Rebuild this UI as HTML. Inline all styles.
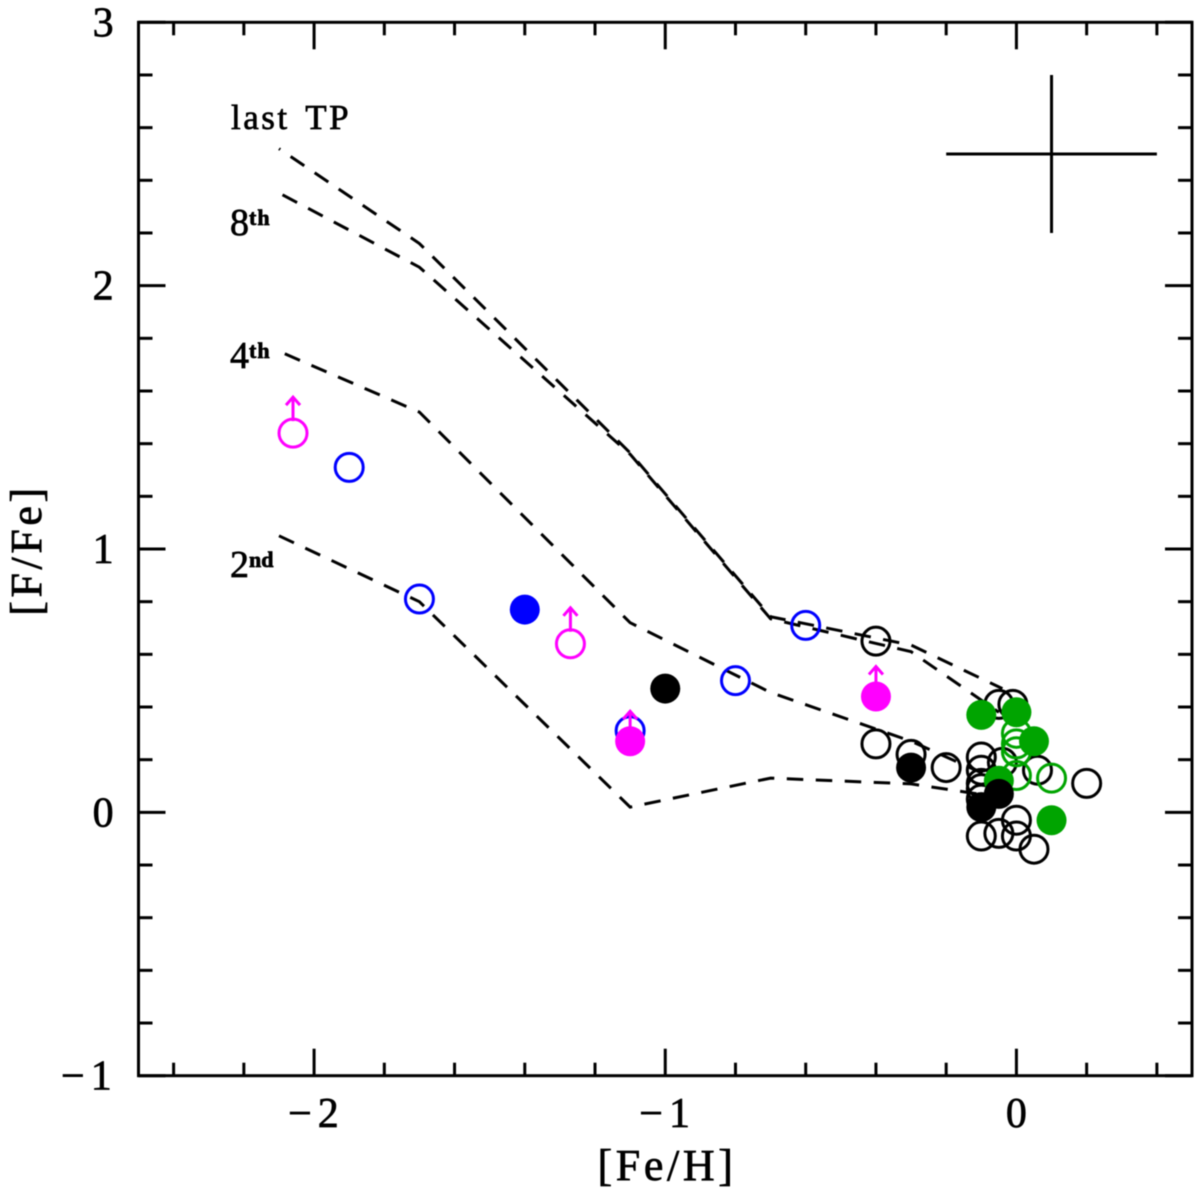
<!DOCTYPE html>
<html lang="en">
<head>
<meta charset="utf-8">
<title>[F/Fe] vs [Fe/H]</title>
<style>
html,body{margin:0;padding:0;background:#fff;}
svg{display:block;filter:blur(.4px);}
text{font-family:"Liberation Serif",serif;fill:#000;stroke:#000;stroke-width:.7px;}
</style>
</head>
<body>
<svg id="chart" xmlns="http://www.w3.org/2000/svg" width="1200" height="1196" viewBox="0 0 1200 1196">
<rect x="0" y="0" width="1200" height="1196" fill="#fff"/>
<g id="curves"></g>
<g id="errorbar"></g>
<g id="points"></g>
<g id="axes"></g>
<text x="667" y="1180" font-size="44" text-anchor="middle" letter-spacing="3.6">[Fe/H]</text>
<text transform="translate(41,550) rotate(-90)" font-size="44" text-anchor="middle" letter-spacing="3.6">[F/Fe]</text>
<text x="231" y="129" font-size="35" letter-spacing="2.5" word-spacing="5">last TP</text>
<text x="230" y="235" font-size="38">8<tspan dy="-10" font-size="22" font-weight="bold" letter-spacing="1">th</tspan></text>
<text x="230" y="368" font-size="38">4<tspan dy="-10" font-size="22" font-weight="bold" letter-spacing="1">th</tspan></text>
<text x="230" y="577" font-size="38">2<tspan dy="-10" font-size="22" font-weight="bold">nd</tspan></text>
</svg>
<script>
// Axis ticks
const xMajorTicks = [-2, -1, 0];
const xMinorTicks = [-2.4, -2.2, -1.8, -1.6, -1.4, -1.2, -0.8, -0.6, -0.4, -0.2, 0.2, 0.4];
const yMajorTicks = [-1, 0, 1, 2, 3];
const yMinorTicks = [-0.8, -0.6, -0.4, -0.2, 0.2, 0.4, 0.6, 0.8, 1.2, 1.4, 1.6, 1.8, 2.2, 2.4, 2.6, 2.8];

// Model curves: [Fe/H], [F/Fe]
const curveLastTpFeH = [-2.1, -1.7, -1.1, -0.7, -0.3, -0.04];
const curveLastTpFFe = [2.52, 2.16, 1.365, 0.743, 0.635, 0.47];
const curve8thFeH = [-2.09, -1.7, -1.1, -0.7, -0.3, -0.05];
const curve8thFFe = [2.345, 2.07, 1.36, 0.735, 0.61, 0.38];
const curve4thFeH = [-2.09, -1.7, -1.1, -0.7, -0.3, -0.05];
const curve4thFFe = [1.745, 1.52, 0.72, 0.455, 0.27, 0.12];
const curve2ndFeH = [-2.1, -1.7, -1.1, -0.7, -0.3, -0.05];
const curve2ndFFe = [1.05, 0.80, 0.02, 0.13, 0.108, 0.058];

// Stars: [Fe/H], [F/Fe]
const blackOpenFeH = [-0.4, -0.05, -0.01, -0.4, -0.3, -0.2, -0.1, -0.1, -0.1, -0.1, -0.1, -0.04, 0.06, 0.2, 0, -0.1, -0.05, 0, 0.05];
const blackOpenFFe = [0.65, 0.41, 0.41, 0.26, 0.22, 0.17, 0.21, 0.16, 0.11, 0.09, 0.05, 0.19, 0.16, 0.11, -0.03, -0.09, -0.08, -0.09, -0.14];
const blueOpenFeH = [-1.9, -1.7, -1.1, -0.8, -0.6];
const blueOpenFFe = [1.31, 0.81, 0.31, 0.5, 0.71];
const blueFilledFeH = [-1.4];
const blueFilledFFe = [0.77];
const magentaOpenFeH = [-2.06, -1.27];
const magentaOpenFFe = [1.44, 0.64];
const magentaFilledFeH = [-1.1, -0.4];
const magentaFilledFFe = [0.27, 0.44];
const greenOpenFeH = [0, 0, 0, 0, 0.1];
const greenOpenFFe = [0.3, 0.26, 0.23, 0.14, 0.13];
const greenFilledFeH = [-0.1, 0, 0.05, -0.05, 0.1];
const greenFilledFFe = [0.37, 0.38, 0.27, 0.12, -0.03];
const blackFilledFeH = [-1, -0.3, -0.05, -0.1];
const blackFilledFFe = [0.47, 0.17, 0.07, 0.02];

// Typical error bar: centre and half-width
const errCentre = [0.1, 2.5];
const errHalf = [0.3, 0.3];

const NS = 'http://www.w3.org/2000/svg';
const left = 138.5, right = 1192, top_ = 22.3, bottom = 1075.7;
const xMin = -2.5, xMax = 0.5, yMin = -1, yMax = 3;
function sx(v) { return left + (v - xMin) / (xMax - xMin) * (right - left); }
function sy(v) { return bottom - (v - yMin) / (yMax - yMin) * (bottom - top_); }
function mk(tag, attrs, parent) {
  const e = document.createElementNS(NS, tag);
  for (const k in attrs) e.setAttribute(k, attrs[k]);
  parent.appendChild(e);
  return e;
}
const axesG = document.getElementById('axes');
const curvesG = document.getElementById('curves');
const pointsG = document.getElementById('points');
const errG = document.getElementById('errorbar');

// Frame
const frame = mk('rect', {x: left, y: top_, width: right - left, height: bottom - top_, fill: 'none', stroke: '#000', 'stroke-width': 3}, axesG);



function tick(x1, y1, x2, y2, name) {
  const t = mk('line', {x1: x1, y1: y1, x2: x2, y2: y2, stroke: '#000', 'stroke-width': 3}, axesG);
  
  
}
function xTicks(list, len, name) {
  list.forEach(function (v) {
    tick(sx(v), bottom, sx(v), bottom - len, name);
    tick(sx(v), top_, sx(v), top_ + len, name);
  });
}
function yTicks(list, len, name) {
  list.forEach(function (v) {
    tick(left, sy(v), left + len, sy(v), name);
    tick(right, sy(v), right - len, sy(v), name);
  });
}
xTicks(xMinorTicks, 13, 'x-minor-tick');
xTicks(xMajorTicks, 27, 'x-major-tick');
yTicks(yMinorTicks, 14, 'y-minor-tick');
yTicks(yMajorTicks, 27, 'y-major-tick');

// Tick labels: negative labels get a wide gap after the minus sign
function label(group, v, x, y, name) {
  const t = mk('text', {x: x, y: y, 'font-size': 42}, group);
  
  
  if (v < 0) {
    t.textContent = '\u2212';
    const d = mk('tspan', {dx: 6}, t);
    
    
    d.textContent = String(Math.abs(v));
  } else {
    t.textContent = String(v);
  }
}
xMajorTicks.forEach(function (v) {
  label(axesG, v, v < 0 ? sx(v) - 26 : sx(v) - 10.5, 1127, 'x-tick-label');
});
yMajorTicks.forEach(function (v) {
  label(axesG, v, v < 0 ? 61 : 92.6, sy(v) + 14, 'y-tick-label');
});

// Dashed model curves
function curve(xs, ys, offset, name) {
  const pts = xs.map(function (v, i) { return sx(v).toFixed(1) + ',' + sy(ys[i]).toFixed(1); }).join(' ');
  const p = mk('polyline', {points: pts, fill: 'none', stroke: '#000', 'stroke-width': 3, 'stroke-dasharray': '16.5 12.5', 'stroke-dashoffset': offset}, curvesG);
  
  
}
curve(curveLastTpFeH, curveLastTpFFe, 15, 'curve-last-tp');
curve(curve8thFeH, curve8thFFe, 0, 'curve-8th-pulse');
curve(curve4thFeH, curve4thFFe, -2.5, 'curve-4th-pulse');
curve(curve2ndFeH, curve2ndFFe, 0, 'curve-2nd-pulse');

// Error bar
const errH = mk('line', {x1: sx(errCentre[0] - errHalf[0]), x2: sx(errCentre[0] + errHalf[0]), y1: sy(errCentre[1]), y2: sy(errCentre[1]), stroke: '#000', 'stroke-width': 3}, errG);


const errV = mk('line', {x1: sx(errCentre[0]), x2: sx(errCentre[0]), y1: sy(errCentre[1] + errHalf[1]), y2: sy(errCentre[1] - errHalf[1]), stroke: '#000', 'stroke-width': 3}, errG);



// Points
function openPts(xs, ys, color, name) {
  xs.forEach(function (v, i) {
    const c = mk('circle', {cx: sx(v), cy: sy(ys[i]), r: 14, fill: 'none', stroke: color, 'stroke-width': 3}, pointsG);
    
    
  });
}
function filledPts(xs, ys, color, name) {
  xs.forEach(function (v, i) {
    const c = mk('circle', {cx: sx(v), cy: sy(ys[i]), r: 15, fill: color}, pointsG);
    
    
  });
}
function arrows(xs, ys, tipOffset, name) {
  xs.forEach(function (v, i) {
    const cx = sx(v), cy = sy(ys[i]), tip = cy - tipOffset;
    const a = mk('path', {d: 'M' + cx + ' ' + (tip + 25) + 'V' + (tip + 1) + 'M' + (cx - 7) + ' ' + (tip + 9) + 'L' + cx + ' ' + (tip + 1) + 'L' + (cx + 7) + ' ' + (tip + 9), fill: 'none', stroke: '#ff00ff', 'stroke-width': 3}, pointsG);
    
    
  });
}
openPts(blackOpenFeH, blackOpenFFe, '#000', 'star-black-open');
openPts(blueOpenFeH, blueOpenFFe, '#0000ff', 'star-blue-open');
filledPts(blueFilledFeH, blueFilledFFe, '#0000ff', 'star-blue-filled');
openPts(magentaOpenFeH, magentaOpenFFe, '#ff00ff', 'star-magenta-open');
arrows(magentaOpenFeH, magentaOpenFFe, 37, 'lower-limit-arrow');
filledPts(magentaFilledFeH, magentaFilledFFe, '#ff00ff', 'star-magenta-filled');
arrows(magentaFilledFeH, magentaFilledFFe, 31, 'lower-limit-arrow');
openPts(greenOpenFeH, greenOpenFFe, '#00a400', 'star-green-open');
filledPts(greenFilledFeH, greenFilledFFe, '#00a400', 'star-green-filled');
filledPts(blackFilledFeH, blackFilledFFe, '#000', 'star-black-filled');
</script>
</body>
</html>
